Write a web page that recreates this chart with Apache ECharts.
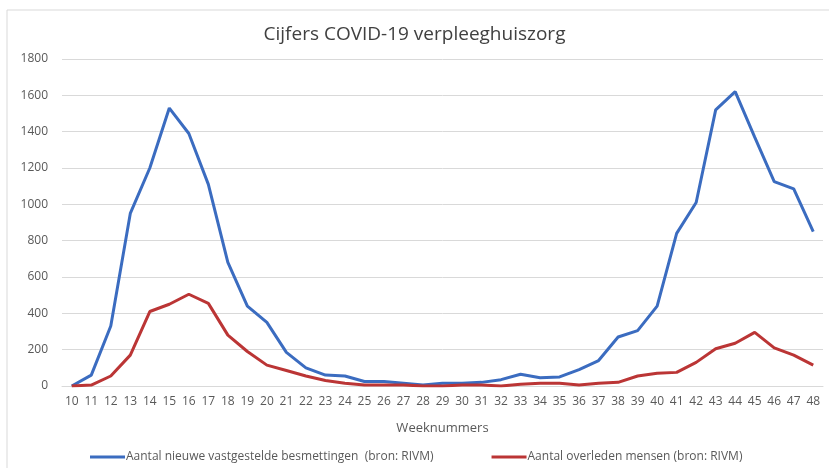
<!DOCTYPE html>
<html>
<head>
    <meta charset="utf-8" />
    <title>Cijfers COVID-19 verpleeghuiszorg</title>
    <script src="https://cdn.jsdelivr.net/npm/echarts@6/dist/echarts.min.js"></script>
    <style>
        html, body {
            width: 100%;
            height: 100%;
            margin: 0px;
            padding: 0px;
            background: #fff;
        }
        #main {
            width: 829px;
            height: 468px;
        }
    </style>
</head>
<body>
    <div id="main"></div>
</body>
<script type="text/javascript">
    // weeknummers 10 t/m 48
    var weeks = ['10', '11', '12', '13', '14', '15', '16', '17', '18', '19', '20', '21', '22', '23', '24', '25', '26', '27', '28', '29',
        '30', '31', '32', '33', '34', '35', '36', '37', '38', '39', '40', '41', '42', '43', '44', '45', '46', '47', '48'];

    var besmettingen = [0, 60, 330, 950, 1200, 1530, 1390, 1110, 680, 440, 350, 185, 100, 60, 55, 25, 25, 15, 5, 15,
        15, 20, 35, 65, 45, 50, 90, 140, 270, 305, 440, 840, 1010, 1520, 1620, 1370, 1125, 1085, 850];

    var overleden = [0, 5, 55, 170, 410, 450, 505, 455, 280, 190, 115, 85, 55, 30, 15, 5, 5, 5, 0, 0,
        5, 5, 0, 10, 15, 15, 5, 15, 20, 55, 70, 75, 130, 205, 235, 295, 210, 170, 115];

    var yTicks = [0, 200, 400, 600, 800, 1000, 1200, 1400, 1600, 1800];

    var seriesNames = ['Aantal nieuwe vastgestelde besmettingen  (bron: RIVM)', 'Aantal overleden mensen (bron: RIVM)'];

    var font = '"Open Sans", "Noto Sans", sans-serif';
    var myChart = echarts.init(document.getElementById('main'));

    myChart.setOption({
        animation: false,
        textStyle: { fontFamily: font },
        graphic: [{
            type: 'rect',
            shape: { x: 7, y: 10, width: 840, height: 480 },
            style: { fill: 'none', stroke: '#d9d9d9', lineWidth: 1 },
            silent: true
        }],
        title: {
            text: 'Cijfers COVID-19 verpleeghuiszorg',
            left: 'center',
            top: 20,
            textStyle: {
                color: '#404040',
                fontSize: 19,
                fontWeight: 'normal',
                fontFamily: font
            }
        },
        legend: {
            bottom: 0,
            left: 85,
            itemWidth: 35,
            itemHeight: 3,
            itemGap: 58,
            icon: 'rect',
            data: seriesNames,
            textStyle: { color: '#595959', fontSize: 12, padding: [0, 0, 0, -4] }
        },
        grid: {
            left: 62,
            right: 6,
            top: 59,
            bottom: 82
        },
        xAxis: {
            type: 'category',
            data: weeks,
            boundaryGap: true,
            name: 'Weeknummers',
            nameLocation: 'middle',
            nameGap: 36,
            nameTextStyle: { color: '#595959', fontSize: 13 },
            axisLine: { lineStyle: { color: '#d9d9d9', width: 1 } },
            axisTick: { show: false },
            axisLabel: { color: '#595959', fontSize: 12, margin: 10, interval: 0 }
        },
        yAxis: {
            type: 'value',
            min: yTicks[0],
            max: yTicks[yTicks.length - 1],
            interval: 200,
            axisLine: { show: false },
            axisTick: { show: false },
            axisLabel: {
                color: '#595959',
                fontSize: 12,
                margin: 14,
                formatter: function (v) { return String(v); }
            },
            splitLine: { lineStyle: { color: '#d9d9d9', width: 1 } }
        },
        series: [{
            name: seriesNames[0],
            type: 'line',
            data: besmettingen,
            symbol: 'none',
            color: '#3b6cc0',
            lineStyle: { width: 3, color: '#3b6cc0' }
        }, {
            name: seriesNames[1],
            type: 'line',
            data: overleden,
            symbol: 'none',
            color: '#bb3535',
            lineStyle: { width: 3, color: '#bb3535' }
        }]
    });
</script>
</html>
